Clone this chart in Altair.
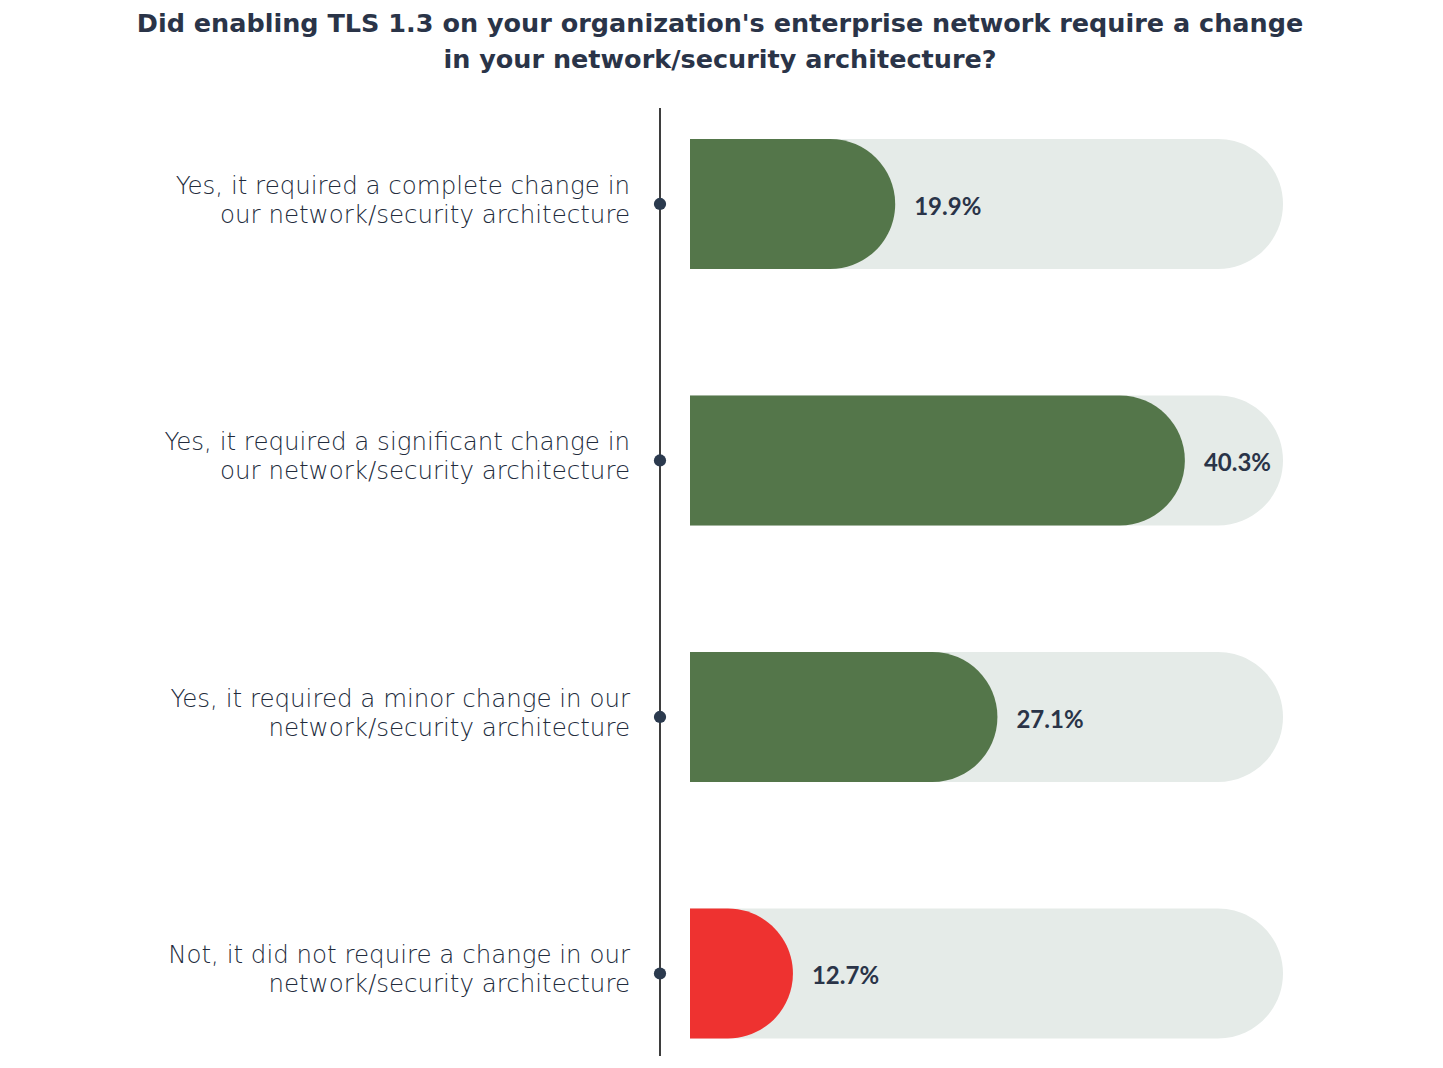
import altair as alt
import pandas as pd

# ---- data ----
categories = [
    "Yes, it required a complete change in\nour network/security architecture",
    "Yes, it required a significant change in\nour network/security architecture",
    "Yes, it required a minor change in our\nnetwork/security architecture",
    "Not, it did not require a change in our\nnetwork/security architecture",
]
values = [19.9, 40.3, 27.1, 12.7]
bar_colors = ["#54764a", "#54764a", "#54764a", "#ee3230"]
value_labels = ["19.9%", "40.3%", "27.1%", "12.7%"]

title_lines = [
    "Did enabling TLS 1.3 on your organization's enterprise network require a change",
    "in your network/security architecture?",
]

df = pd.DataFrame({
    "cat": categories,
    "value": values,
    "color": bar_colors,
    "label": value_labels,
})

# ---- layout / style ----
PLOT_W = 593
PLOT_H = 948
X_DOMAIN = [5.45, 47.21]
TEXT = "#2a3448"
TRACK = "#e5ebe8"

ysc = alt.Scale(paddingInner=0.4932, paddingOuter=0.0945, align=0.639)
y = alt.Y("cat:N", sort=categories, scale=ysc, axis=None)
xsc = alt.Scale(domain=X_DOMAIN, zero=False, nice=False)

base = alt.Chart(df)

track = base.mark_bar(
    color=TRACK, cornerRadiusTopRight=65, cornerRadiusBottomRight=65
).encode(x=alt.value(0), x2=alt.value(PLOT_W), y=y)

bars = base.mark_bar(
    clip=True, cornerRadiusTopRight=65, cornerRadiusBottomRight=65
).encode(
    x=alt.X("value:Q", scale=xsc, axis=None),
    x2=alt.datum(0),
    y=y,
    color=alt.Color("color:N", scale=None),
)

vlabels = base.mark_text(
    align="left", baseline="middle", dx=19, dy=4,
    font="Lato", fontWeight="bold", fontSize=24, color=TEXT,
).encode(x=alt.X("value:Q", scale=xsc, axis=None), y=y, text="label:N")

rule = base.mark_rule(color="#3a3a3a", strokeWidth=1.2).encode(
    x=alt.value(-30), y=alt.value(0), y2=alt.value(PLOT_H)
)

dots = base.mark_circle(size=150, opacity=1, color="#2b3a4e").encode(
    x=alt.value(-30), y=y
)

cat_labels = base.mark_text(
    align="right", baseline="middle", lineBreak="\n", lineHeight=29, dy=-17,
    font="DejaVu Sans", fontWeight=300, fontSize=24.5, color="#222b3c",
).encode(x=alt.value(-60), y=y, text="cat:N")

chart = alt.layer(track, bars, vlabels, rule, dots, cat_labels).properties(
    width=PLOT_W,
    height=PLOT_H,
    autosize=alt.AutoSizeParams(type="none"),
    padding={"left": 682, "top": 100, "right": 140, "bottom": 0},
    title=alt.TitleParams(
        text=title_lines,
        anchor="middle",
        dx=-266.5,
        offset=34,
        lineHeight=36,
        font="DejaVu Sans",
        fontWeight="bold",
        fontSize=25.5,
        color=TEXT,
    ),
).configure_view(stroke=None)

chart.save("out.html", embed_options={"renderer": "svg", "actions": False})
